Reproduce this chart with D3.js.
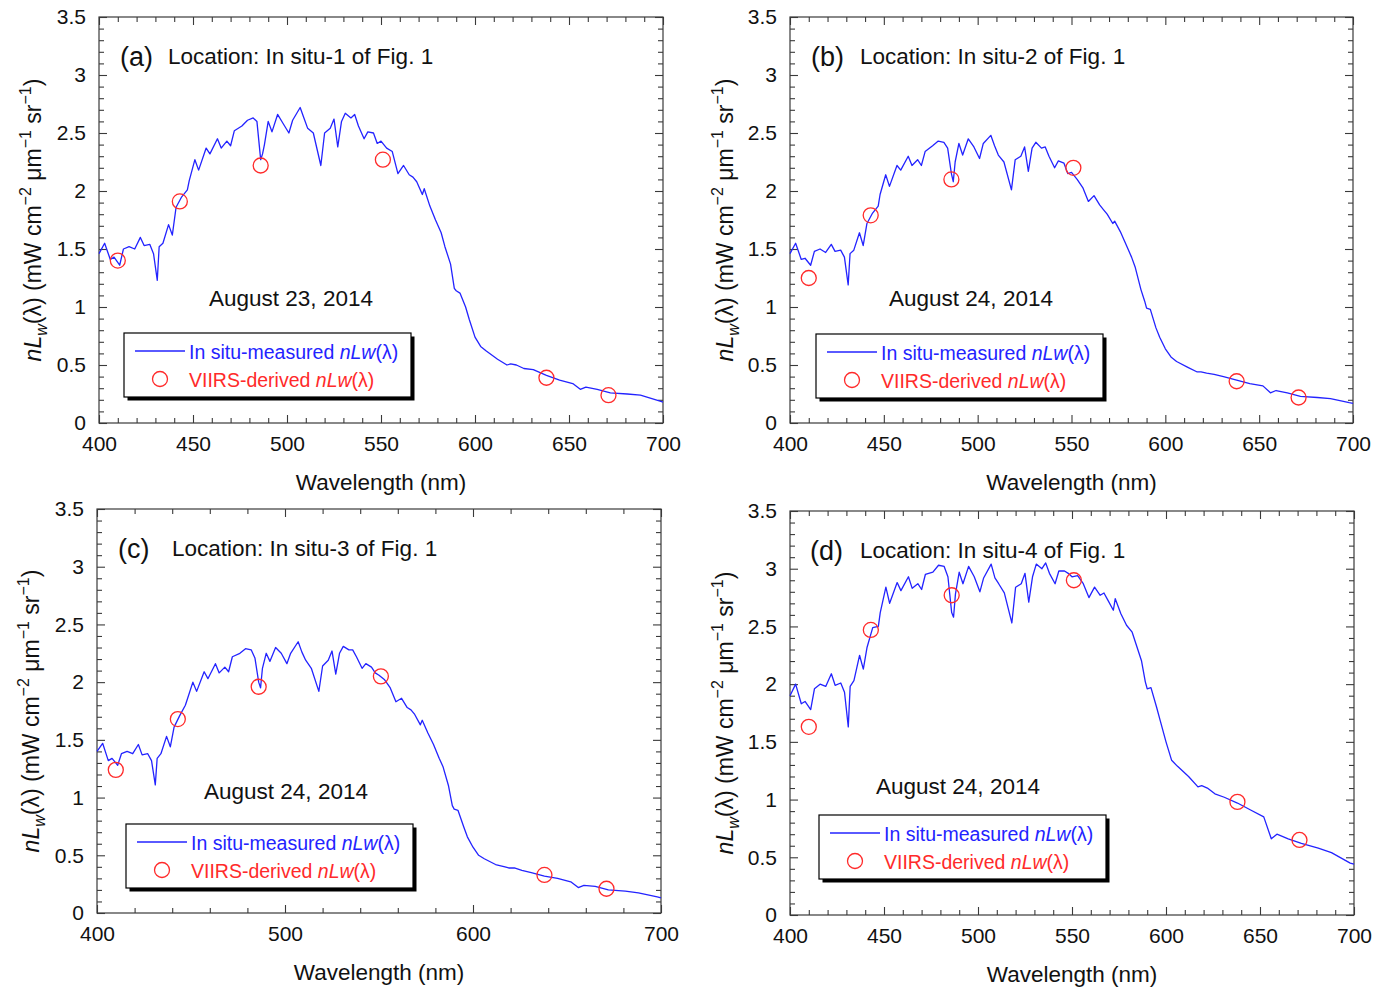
<!DOCTYPE html>
<html>
<head>
<meta charset="utf-8">
<script src="https://cdn.jsdelivr.net/npm/d3@7/dist/d3.min.js"></script>
<style>
  html, body { margin: 0; padding: 0; background: #ffffff; }
  svg { display: block; font-family: "Liberation Sans", Arial, Helvetica, sans-serif; }
</style>
</head>
<body>
<svg id="chart" width="1387" height="990"></svg>
<script>
// ---------------- DATA ----------------
const wavelengths = [
  400,403,406,408,411,413,416,419,422,424,
  427,429,431,432,434,437,439,441,444,447,
  448,451,453,457,459,463,465,468,470,472,
  476,479,482,484,486,487,488,490,492,495,
  498,501,503,507,509,511,514,518,520,523,
  525,527,529,531,534,536,538,541,543,546,
  548,550,553,556,559,562,565,567,569,572,
  573,576,579,582,584,587,589,590,592,595,
  597,600,603,606,612,617,619,622,626,631,
  638,645,652,656,659,665,672,681,688,698,700];

const nLwSitu1 = [
  1.46,1.55,1.41,1.43,1.36,1.50,1.52,1.50,1.60,1.53,
  1.54,1.46,1.23,1.52,1.55,1.71,1.62,1.86,1.95,2.01,
  2.09,2.27,2.18,2.37,2.32,2.45,2.37,2.43,2.39,2.52,
  2.56,2.61,2.63,2.60,2.27,2.32,2.40,2.60,2.51,2.66,
  2.58,2.50,2.61,2.72,2.63,2.54,2.50,2.22,2.50,2.54,
  2.62,2.38,2.60,2.67,2.63,2.66,2.56,2.45,2.51,2.50,
  2.41,2.43,2.37,2.34,2.15,2.22,2.14,2.12,2.08,1.97,
  2.02,1.87,1.75,1.64,1.52,1.37,1.16,1.14,1.12,1.00,
  0.89,0.74,0.66,0.62,0.55,0.50,0.51,0.50,0.47,0.46,
  0.41,0.37,0.34,0.29,0.31,0.29,0.26,0.25,0.24,0.19,0.18];

const nLwSitu2 = [
  1.46,1.55,1.41,1.42,1.36,1.48,1.50,1.47,1.54,1.48,
  1.49,1.43,1.19,1.46,1.49,1.64,1.53,1.72,1.81,1.87,
  1.97,2.14,2.04,2.22,2.18,2.30,2.22,2.27,2.22,2.34,
  2.39,2.43,2.42,2.37,2.15,2.08,2.25,2.41,2.31,2.45,
  2.38,2.28,2.41,2.48,2.39,2.31,2.25,2.01,2.27,2.30,
  2.38,2.17,2.37,2.42,2.37,2.38,2.30,2.20,2.26,2.24,
  2.15,2.16,2.10,2.03,1.91,1.96,1.88,1.84,1.80,1.72,
  1.74,1.65,1.54,1.43,1.34,1.15,1.05,0.99,0.98,0.82,
  0.74,0.64,0.57,0.53,0.48,0.44,0.44,0.43,0.42,0.40,
  0.37,0.34,0.32,0.26,0.28,0.26,0.23,0.22,0.21,0.175,0.17];

const nLwSitu3 = [
  1.40,1.47,1.32,1.34,1.28,1.38,1.40,1.38,1.46,1.37,
  1.38,1.32,1.11,1.34,1.38,1.53,1.44,1.61,1.71,1.80,
  1.85,2.00,1.92,2.09,2.03,2.16,2.08,2.13,2.09,2.22,
  2.25,2.29,2.28,2.21,2.00,1.95,2.12,2.25,2.18,2.30,
  2.25,2.16,2.25,2.35,2.26,2.19,2.12,1.92,2.14,2.19,
  2.27,2.07,2.25,2.31,2.28,2.28,2.22,2.12,2.16,2.13,
  2.08,2.06,2.02,1.95,1.83,1.86,1.78,1.76,1.72,1.63,
  1.67,1.56,1.46,1.34,1.27,1.10,0.93,0.90,0.89,0.75,
  0.66,0.57,0.50,0.47,0.42,0.40,0.39,0.39,0.37,0.35,
  0.32,0.30,0.27,0.22,0.24,0.23,0.20,0.19,0.175,0.14,0.13];

const nLwSitu4 = [
  1.90,2.00,1.83,1.85,1.78,1.96,2.00,1.98,2.09,1.99,
  2.01,1.93,1.63,1.98,2.03,2.25,2.13,2.32,2.49,2.50,
  2.62,2.84,2.70,2.88,2.81,2.93,2.83,2.87,2.82,2.95,
  2.97,3.03,3.02,2.93,2.62,2.58,2.78,2.97,2.87,3.02,
  2.93,2.80,2.92,3.04,2.92,2.87,2.79,2.53,2.84,2.87,
  2.96,2.71,2.93,3.04,3.00,3.05,2.96,2.87,2.98,2.98,
  2.96,2.93,2.94,2.87,2.75,2.84,2.77,2.79,2.73,2.64,
  2.74,2.61,2.51,2.45,2.35,2.20,2.02,1.96,1.97,1.80,
  1.68,1.50,1.34,1.29,1.20,1.11,1.12,1.10,1.05,1.02,
  0.97,0.91,0.85,0.66,0.70,0.66,0.62,0.58,0.54,0.45,0.44];

const viirsBands = [410, 443, 486, 551, 638, 671];
const viirs1 = [1.40, 1.91, 2.22, 2.27, 0.39, 0.24];
const viirs2 = [1.25, 1.79, 2.10, 2.20, 0.36, 0.22];
const viirs3 = [1.24, 1.68, 1.96, 2.05, 0.33, 0.21];
const viirs4 = [1.63, 2.47, 2.77, 2.90, 0.98, 0.65];

const xTicks50 = [400, 450, 500, 550, 600, 650, 700];
const xTicks100 = [400, 500, 600, 700];
const yTicks = [0, 0.5, 1, 1.5, 2, 2.5, 3, 3.5];

const panelLetters = ["(a)", "(b)", "(c)", "(d)"];
const locations = ["Location: In situ-1 of Fig. 1", "Location: In situ-2 of Fig. 1",
                   "Location: In situ-3 of Fig. 1", "Location: In situ-4 of Fig. 1"];
const dates = ["August 23, 2014", "August 24, 2014", "August 24, 2014", "August 24, 2014"];
const legendLabels = ["In situ-measured ", "VIIRS-derived "];
const xTitle = "Wavelength (nm)";

// ---------------- LAYOUT ----------------
const panels = [
  { l: 99,  r: 663,  t: 17,  b: 423, major: xTicks50,  minorStep: 10, situ: nLwSitu1, viirs: viirs1,
    ylx: 41, letterDx: 21, locDx: 69, dateX: 291, dateY: 306, leg: [124, 333] },
  { l: 790, r: 1353, t: 17,  b: 423, major: xTicks50,  minorStep: 10, situ: nLwSitu2, viirs: viirs2,
    ylx: 733, letterDx: 21, locDx: 70, dateX: 971, dateY: 306, leg: [816, 334] },
  { l: 97,  r: 661,  t: 509, b: 913, major: xTicks100, minorStep: 20, situ: nLwSitu3, viirs: viirs3,
    ylx: 39, letterDx: 21, locDx: 75, dateX: 286, dateY: 799, leg: [126, 824] },
  { l: 790, r: 1354, t: 511, b: 915, major: xTicks50,  minorStep: 10, situ: nLwSitu4, viirs: viirs4,
    ylx: 733, letterDx: 20, locDx: 70, dateX: 958, dateY: 794, leg: [819, 815] }
];

const BLUE = "#2323ff";
const RED = "#ff2a2a";
const AXIS = "#3a3a3a";
const svg = d3.select("#chart");

function styleAxis(g) {
  g.select(".domain").remove();
  g.selectAll(".tick line").attr("stroke", AXIS).attr("stroke-width", 1.1);
  g.selectAll(".tick text").attr("fill", "#111").style("font-size", "21px")
    .style("font-family", "'Liberation Sans', Arial, sans-serif");
}

panels.forEach((p, i) => {
  const x = d3.scaleLinear().domain([400, 700]).range([p.l, p.r]);
  const y = d3.scaleLinear().domain([0, 3.5]).range([p.b, p.t]);
  const g = svg.append("g");

  const minorX = d3.range(400, 700 + 0.001, p.minorStep).filter(v => !p.major.includes(v));
  const minorY = d3.range(0, 3.5001, 0.1).map(v => +v.toFixed(1)).filter(v => !yTicks.includes(v));

  // bottom
  g.append("g").attr("transform", `translate(0,${p.b})`)
    .call(d3.axisBottom(x).tickValues(p.major).tickSize(-8).tickSizeOuter(0).tickPadding(13).tickFormat(d3.format("d")))
    .call(styleAxis);
  g.append("g").attr("transform", `translate(0,${p.b})`)
    .call(d3.axisBottom(x).tickValues(minorX).tickSize(-5).tickSizeOuter(0).tickFormat(""))
    .call(styleAxis);
  // top
  g.append("g").attr("transform", `translate(0,${p.t})`)
    .call(d3.axisTop(x).tickValues(p.major).tickSize(-8).tickSizeOuter(0).tickFormat(""))
    .call(styleAxis);
  g.append("g").attr("transform", `translate(0,${p.t})`)
    .call(d3.axisTop(x).tickValues(minorX).tickSize(-5).tickSizeOuter(0).tickFormat(""))
    .call(styleAxis);
  // left
  g.append("g").attr("transform", `translate(${p.l},0)`)
    .call(d3.axisLeft(y).tickValues(yTicks).tickSize(-8).tickSizeOuter(0).tickPadding(13).tickFormat(d => d3.format("")(d)))
    .call(styleAxis);
  g.append("g").attr("transform", `translate(${p.l},0)`)
    .call(d3.axisLeft(y).tickValues(minorY).tickSize(-5).tickSizeOuter(0).tickFormat(""))
    .call(styleAxis);
  // right
  g.append("g").attr("transform", `translate(${p.r},0)`)
    .call(d3.axisRight(y).tickValues(yTicks).tickSize(-8).tickSizeOuter(0).tickFormat(""))
    .call(styleAxis);
  g.append("g").attr("transform", `translate(${p.r},0)`)
    .call(d3.axisRight(y).tickValues(minorY).tickSize(-5).tickSizeOuter(0).tickFormat(""))
    .call(styleAxis);

  // frame
  g.append("rect").attr("x", p.l).attr("y", p.t).attr("width", p.r - p.l).attr("height", p.b - p.t)
    .attr("fill", "none").attr("stroke", AXIS).attr("stroke-width", 1.2);

  // in situ line
  const line = d3.line().x((d, k) => x(wavelengths[k])).y(d => y(d));
  g.append("path").datum(p.situ).attr("d", line)
    .attr("fill", "none").attr("stroke", BLUE).attr("stroke-width", 1.3).attr("stroke-linejoin", "round");

  // VIIRS circles
  g.selectAll("circle.v").data(p.viirs).enter().append("circle")
    .attr("cx", (d, k) => x(viirsBands[k])).attr("cy", d => y(d)).attr("r", 7.5)
    .attr("fill", "none").attr("stroke", RED).attr("stroke-width", 1.3);

  // panel label + location
  g.append("text").attr("x", p.l + p.letterDx).attr("y", p.t + 49)
    .style("font-size", "27px").attr("fill", "#111").text(panelLetters[i]);
  g.append("text").attr("x", p.l + p.locDx).attr("y", p.t + 47)
    .style("font-size", "22.5px").attr("fill", "#111").text(locations[i]);

  // date
  g.append("text").attr("x", p.dateX).attr("y", p.dateY).attr("text-anchor", "middle")
    .style("font-size", "22.5px").attr("fill", "#111").text(dates[i]);

  // x title
  g.append("text").attr("x", (p.l + p.r) / 2).attr("y", p.b + 67).attr("text-anchor", "middle")
    .style("font-size", "22.5px").attr("fill", "#111").text(xTitle);

  // y title
  const yt = g.append("text").attr("transform", `translate(${p.ylx},${(p.t + p.b) / 2}) rotate(-90)`)
    .attr("text-anchor", "middle").style("font-size", "23px").attr("fill", "#111");
  yt.append("tspan").style("font-style", "italic").text("nL");
  yt.append("tspan").style("font-style", "italic").style("font-size", "16px").attr("dy", 6).text("w");
  yt.append("tspan").attr("dy", -6).text("(λ) (mW cm");
  yt.append("tspan").style("font-size", "16px").attr("dy", -10).text("−2");
  yt.append("tspan").attr("dy", 10).text(" μm");
  yt.append("tspan").style("font-size", "16px").attr("dy", -10).text("−1");
  yt.append("tspan").attr("dy", 10).text(" sr");
  yt.append("tspan").style("font-size", "16px").attr("dy", -10).text("−1");
  yt.append("tspan").attr("dy", 10).text(")");

  // legend
  const [lx, ly] = p.leg;
  const lw = 287, lh = 64;
  g.append("rect").attr("x", lx + 3.5).attr("y", ly + 3.5).attr("width", lw).attr("height", lh).attr("fill", "#000");
  g.append("rect").attr("x", lx).attr("y", ly).attr("width", lw).attr("height", lh)
    .attr("fill", "#fff").attr("stroke", "#000").attr("stroke-width", 1.2);
  g.append("line").attr("x1", lx + 11).attr("x2", lx + 61).attr("y1", ly + 18).attr("y2", ly + 18)
    .attr("stroke", BLUE).attr("stroke-width", 1.3);
  const t1 = g.append("text").attr("x", lx + 65).attr("y", ly + 26).style("font-size", "19.5px").attr("fill", BLUE);
  t1.append("tspan").text(legendLabels[0]);
  t1.append("tspan").style("font-style", "italic").text("nLw");
  t1.append("tspan").text("(λ)");
  g.append("circle").attr("cx", lx + 36).attr("cy", ly + 46).attr("r", 7.5)
    .attr("fill", "none").attr("stroke", RED).attr("stroke-width", 1.3);
  const t2 = g.append("text").attr("x", lx + 65).attr("y", ly + 54).style("font-size", "19.5px").attr("fill", RED);
  t2.append("tspan").text(legendLabels[1]);
  t2.append("tspan").style("font-style", "italic").text("nLw");
  t2.append("tspan").text("(λ)");
});
</script>
</body>
</html>
